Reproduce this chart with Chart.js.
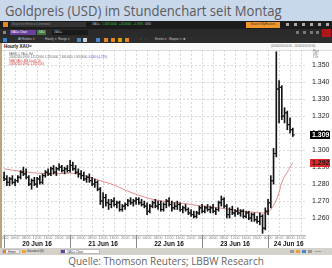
<!DOCTYPE html>
<html lang="de">
<head>
<meta charset="UTF-8">
<title>Goldpreis (USD) im Stundenchart</title>
<script src="https://cdn.jsdelivr.net/npm/chart.js"></script>
<style>
  html, body { margin: 0; padding: 0; }
  body { width: 332px; height: 268px; position: relative; overflow: hidden; background: #fff;
         font-family: "Liberation Sans", Arial, sans-serif; }
  .abs { position: absolute; white-space: nowrap; }
  .titel { left: 0; top: 0; width: 332px; height: 21px; background: #c9d7eb; }
  .titel span { position: absolute; left: 5px; top: 0px; font-family: "Open Sans"; font-size: 15px;
                color: #5a5a5a; transform: scaleX(0.873); transform-origin: 0 0; }
  .leiste { left: 0; width: 332px; }
  .leiste * { position: absolute; white-space: nowrap; font-size: 3px; line-height: 5px; }
  .kopf { left: 0; top: 43px; width: 332px; height: 7px; background: #fafafa; border-bottom: 1px solid #ddd; }
  .mini { font-size: 2.6px; line-height: 3px; color: #666; }
  #wrap { left: 0; top: 50px; width: 332px; height: 198px; }
  .rand { left: 0; top: 43px; width: 2px; height: 205px; background: #bba27c; }
  .task { left: 0; top: 248px; width: 332px; height: 7px; background: #d5d2cc; }
  .task * { position: absolute; white-space: nowrap; font-size: 3px; line-height: 5px; top: 1px; height: 5px; }
  .quelle { left: 0; top: 254px; width: 332px; text-align: center; font-family: "Open Sans";
            font-size: 10px; line-height: 14px; color: #666; }
</style>
</head>
<body>

<div class="abs titel"><span>Goldpreis (USD) im Stundenchart seit Montag</span></div>

<!-- Eikon-Werkzeugleisten -->
<div class="abs leiste" style="top:21px;height:8px;background:#1c1c1c">
  <i style="left:3px;top:1px;width:5px;height:5px;background:#e8831e"></i>
  <b style="left:10px;top:1px;width:74px;height:5px;background:#333;color:#888;font-weight:normal;padding-left:2px">Search or Enter a Command</b>
  <span style="left:92px;top:1px;color:#bbb">XAU=</span>
  <span style="left:102px;top:1px;color:#3cc43c">1.309,0000 &nbsp;+24,9000 &nbsp;+1,93% &nbsp;<span style="position:static;color:#bbb">USD</span></span>
  <b style="left:246px;top:1px;width:34px;height:6px;background:#f0962c;color:#333;font-weight:normal;text-align:center">Search MyReuters</b>
  <i style="left:286px;top:2px;width:3px;height:3px;background:#aaa"></i>
  <i style="left:294px;top:2px;width:3px;height:3px;background:#aaa"></i>
  <i style="left:302px;top:2px;width:3px;height:3px;background:#aaa"></i>
  <i style="left:310px;top:2px;width:3px;height:3px;background:#aaa"></i>
  <i style="left:318px;top:2px;width:3px;height:3px;background:#aaa"></i>
  <i style="left:326px;top:2px;width:3px;height:3px;background:#aaa"></i>
</div>
<div class="abs leiste" style="top:29px;height:8px;background:#2a2a2a">
  <i style="left:3px;top:2px;width:3px;height:3px;background:#888"></i>
  <b style="left:10px;top:1px;width:25px;height:5px;background:#6a3fa0;color:#fff;font-weight:normal;padding-left:1px">XAU= Chart</b>
  <b style="left:37px;top:1px;width:9px;height:5px;background:#3b7a3b;color:#ddd;font-weight:normal;text-align:center">XAU</b>
  <b style="left:52px;top:1px;width:34px;height:5px;background:#1a1a1a;color:#bbb;font-weight:normal;padding-left:2px">XAU=</b>
  <i style="left:296px;top:2px;width:3px;height:3px;background:#777"></i>
  <i style="left:303px;top:2px;width:3px;height:3px;background:#777"></i>
  <i style="left:310px;top:2px;width:3px;height:3px;background:#777"></i>
  <i style="left:316px;top:2px;width:3px;height:3px;background:#777"></i>
  <i style="left:322px;top:0px;width:9px;height:8px;background:#b31616"></i>
</div>
<div class="abs leiste" style="top:37px;height:6px;background:#2d2d2d">
  <i style="left:3px;top:1px;width:4px;height:4px;background:#3a7fd0"></i>
  <span style="left:18px;top:0px;color:#ccc">All Entities ▾</span>
  <span style="left:45px;top:0px;color:#ccc">Hourly ▾ &nbsp;Range ▾</span>
  <i style="left:77px;top:1px;width:4px;height:4px;background:#4a86c8"></i>
  <i style="left:83px;top:1px;width:4px;height:4px;background:#d0d0d0"></i>
  <i style="left:96px;top:1px;width:4px;height:4px;background:#4a86c8"></i>
  <i style="left:104px;top:1px;width:4px;height:4px;background:#e8831e"></i>
  <i style="left:111px;top:1px;width:4px;height:4px;background:#e8831e"></i>
  <i style="left:118px;top:1px;width:4px;height:4px;background:#d9a400"></i>
  <i style="left:125px;top:1px;width:4px;height:4px;background:#e8831e"></i>
  <span style="left:140px;top:0px;color:#999">↕ &nbsp;↔</span>
  <span style="left:155px;top:0px;color:#ccc">Events ▾ &nbsp;Shapes ▾ &nbsp;✱</span>
</div>

<div class="abs kopf">
  <span class="abs" style="left:4px;top:1px;font-size:4.5px;font-weight:bold;color:#111">Hourly XAU=</span>
  <span class="abs mini" style="left:271px;top:2px">(20/06/2016 00:00 - 24/06/2016 09:00)</span>
</div>

<div class="abs" id="wrap"><canvas id="goldChart" width="332" height="198"></canvas></div>

<div class="abs mini" style="left:9px;top:53px">BARHLC, XAU=, Bid</div>
<div class="abs mini" style="left:9px;top:56px">24/06/2016 09:00, 1.312,0000, 1.313,0000, 1.308,0000, 1.309,0000 <span style="color:#6a4bd0">-3,0000 (-0,23%)</span></div>
<div class="abs mini" style="left:9px;top:59.5px;color:#d23030">SMA, XAU= (Bid (Last)), 20</div>
<div class="abs mini" style="left:9px;top:62.5px;color:#d23030">24/06/2016 09:00, 1.292,5593</div>
<div class="abs mini" style="left:313px;top:50px;line-height:3.2px">Price<br>USD<br>T.Oz</div>

<div class="abs rand"></div>

<div class="abs task">
  <i style="left:2px;width:18px;background:#eee;border:1px solid #bbb;box-sizing:border-box;color:#333;padding-left:5px">Home</i>
  <i style="left:3px;top:2px;width:3px;height:3px;background:#e8831e"></i>
  <i style="left:22px;width:36px;color:#333;padding-left:5px">Standard (6)</i>
  <i style="left:22px;top:2px;width:4px;height:3px;background:#f0a030"></i>
  <i style="left:60px;width:40px;background:#fff;border:1px solid #bbb;box-sizing:border-box;color:#333;padding-left:6px">XAU= Chart</i>
  <i style="left:61px;top:2px;width:4px;height:3px;background:#6a3fa0"></i>
  <i style="left:290px;top:2px;width:4px;height:3px;background:#999"></i>
  <i style="left:296px;top:2px;width:4px;height:3px;background:#f0a030"></i>
  <i style="left:302px;top:2px;width:4px;height:3px;background:#4a86c8"></i>
  <i style="left:308px;top:2px;width:4px;height:3px;background:#999"></i>
  <i style="left:315px;top:2px;width:12px;height:3px;color:#555;font-size:2.5px;line-height:3px">09:01</i>
</div>

<div class="abs quelle">Quelle: Thomson Reuters; LBBW Research</div>

<script>
// Stundenbalken XAU= ab Mo 20.06.2016 00:00 (Index = Stunde)
const open  = [1284,1283,1281,1283,1281,1282,1284,1287,1286,1284,1280,1282,1280,1283,1281,1285,1287,1286,1289,1287,1289,1290,1288,1289,
               1288,1291,1289,1287,1286,1285,1283,1284,1282,1280,1281,1277,1270,1272,1269,1268,1270,1268,1269,1265,1267,1268,1270,1269,
               1270,1271,1269,1268,1267,1264,1267,1269,1267,1268,1265,1268,1270,1268,1266,1267,1268,1265,1266,1265,1263,1262,1261,1263,
               1266,1264,1266,1265,1266,1264,1265,1269,1271,1267,1262,1265,1263,1264,1263,1264,1261,1263,1260,1262,1259,1258,1261,1254,
               1264,1269,1282,1298,1336,1337,1320,1322,1315,1312];
const high  = [1287,1285,1284,1285,1283,1285,1288,1290,1289,1285,1283,1284,1284,1285,1286,1288,1289,1290,1291,1290,1292,1291,1290,1291,
               1294,1293,1291,1289,1288,1287,1285,1286,1284,1283,1282,1278,1275,1274,1271,1271,1272,1270,1270,1268,1269,1271,1272,1271,
               1272,1272,1271,1270,1269,1268,1270,1271,1270,1270,1269,1271,1272,1270,1269,1270,1269,1267,1268,1266,1265,1264,1264,1267,
               1268,1267,1268,1267,1268,1266,1270,1273,1272,1268,1266,1267,1265,1266,1265,1265,1264,1264,1263,1263,1261,1263,1262,1266,
               1271,1285,1301,1358,1341,1338,1325,1323,1319,1313];
const low   = [1282,1279,1279,1280,1279,1281,1283,1285,1283,1279,1277,1279,1278,1280,1280,1284,1285,1285,1286,1285,1288,1287,1286,1287,
               1287,1288,1286,1284,1283,1282,1281,1281,1279,1278,1276,1268,1266,1267,1265,1266,1267,1266,1264,1264,1265,1267,1268,1267,
               1268,1268,1267,1266,1262,1263,1266,1266,1265,1264,1264,1266,1267,1264,1265,1265,1264,1263,1264,1262,1261,1260,1260,1262,
               1263,1263,1264,1263,1263,1262,1264,1267,1266,1260,1260,1262,1261,1262,1261,1260,1260,1259,1258,1258,1257,1256,1251,1253,
               1262,1266,1280,1296,1316,1318,1316,1312,1310,1308];
const close = [1283,1281,1283,1281,1282,1284,1287,1286,1284,1280,1282,1280,1283,1281,1285,1287,1286,1289,1287,1289,1290,1288,1289,1288,
               1291,1289,1287,1286,1285,1283,1284,1282,1280,1281,1277,1270,1272,1269,1268,1270,1268,1269,1265,1267,1268,1270,1269,1270,
               1271,1269,1268,1267,1264,1267,1269,1267,1268,1265,1268,1270,1268,1266,1267,1268,1265,1266,1265,1263,1262,1261,1263,1266,
               1264,1266,1265,1266,1264,1265,1269,1271,1267,1262,1265,1263,1264,1263,1264,1261,1263,1260,1262,1259,1258,1261,1254,1264,
               1269,1282,1298,1336,1337,1320,1322,1315,1312,1309];

const maHours  = [0, 6, 12, 18, 24, 28, 32, 36, 40, 44, 48, 54, 60, 66, 72, 78, 84, 90, 94, 96, 98, 100, 101, 102, 103, 104, 105];
const maValues = [1289, 1287.5, 1286.5, 1286, 1286.5, 1285.5, 1283.5, 1281.5, 1279.5, 1276.5, 1274, 1271, 1269.5, 1268.5,
                  1267, 1266, 1264.7, 1263.5, 1263, 1263.5, 1267.5, 1275, 1281, 1284.5, 1287, 1290, 1292.6];

const timeLabels = ['00:00', '04:00', '08:00', '12:00', '16:00', '20:00'];
const dayLabels  = ['20 Jun 16', '21 Jun 16', '22 Jun 16', '23 Jun 16', '24 Jun 16'];
const dayStarts  = [0, 24, 48, 72, 96];
const dayCenters = [12, 36, 60, 84, 103.5];
const priceTicks = [1260, 1270, 1280, 1290, 1300, 1310, 1320, 1330, 1340, 1350];

const fmtPrice = v => '1.' + String(Math.floor(v)).slice(1);

const barColor = '#141414';
const xMin = -0.4, xMax = 109.8;

// Achsen sollen keinen Zusatzrand fuer ihre Randbeschriftungen anfordern
const noPad = axis => { axis.paddingLeft = 0; axis.paddingRight = 0; axis.paddingTop = 0; axis.paddingBottom = 0; };

// Tagestrenner, Kursmarken rechts
const extras = {
  id: 'extras',
  afterDraw(chart) {
    const c = chart.ctx, a = chart.chartArea, xs = chart.scales.x, ys = chart.scales.y;
    c.save();
    c.strokeStyle = '#bbb';
    c.lineWidth = 1;
    c.beginPath();
    c.moveTo(a.left, a.bottom + 0.5);
    c.lineTo(a.right, a.bottom + 0.5);
    c.stroke();
    c.strokeStyle = '#8a8a8a';
    dayStarts.forEach(d => {
      const px = Math.round(xs.getPixelForValue(d)) + 0.5;
      c.beginPath();
      c.moveTo(px, a.bottom);
      c.lineTo(px, a.bottom + 13);
      c.stroke();
    });
    const boxes = [
      { v: close[close.length - 1], bg: '#000', fg: '#fff' },
      { v: maValues[maValues.length - 1], bg: '#e3262a', fg: '#1a1a1a' }
    ];
    c.font = 'bold 7px "Liberation Sans", Arial';
    c.textBaseline = 'middle';
    boxes.forEach(b => {
      const py = Math.round(ys.getPixelForValue(b.v));
      c.fillStyle = b.bg;
      c.fillRect(a.right + 4, py - 4, 20, 8);
      c.fillStyle = b.fg;
      c.fillText(fmtPrice(b.v), a.right + 6, py + 0.5);
    });
    c.restore();
  }
};

const ctx = document.getElementById('goldChart').getContext('2d');
new Chart(ctx, {
  type: 'bar',
  data: {
    datasets: [
      {
        type: 'line',
        data: maHours.map((h, i) => ({ x: h, y: maValues[i] })),
        borderColor: 'rgba(214, 92, 92, 0.7)',
        borderWidth: 1,
        pointRadius: 0,
        cubicInterpolationMode: 'monotone',
        order: 4
      },
      {
        type: 'bar',
        data: open.map((o, i) => ({ x: i, y: [low[i], high[i]] })),
        backgroundColor: barColor,
        barThickness: 1,
        order: 1
      },
      {
        type: 'line',
        data: open.map((o, i) => ({ x: i - 0.4, y: o })),
        showLine: false,
        pointStyle: 'line',
        pointRadius: 1,
        pointBorderWidth: 1,
        pointBorderColor: barColor,
        order: 2
      },
      {
        type: 'line',
        data: close.map((v, i) => ({ x: i + 0.4, y: v })),
        showLine: false,
        pointStyle: 'line',
        pointRadius: 1,
        pointBorderWidth: 1,
        pointBorderColor: barColor,
        order: 2
      }
    ]
  },
  options: {
    responsive: false,
    animation: false,
    events: [],
    layout: { autoPadding: false, padding: { left: 3, top: 0, right: 0, bottom: 0 } },
    plugins: { legend: { display: false }, tooltip: { enabled: false } },
    scales: {
      x: {
        type: 'linear', min: xMin, max: xMax, offset: false, weight: 0,
        grid: { color: '#d6d6d6', drawTicks: false, offset: false },
        border: { display: false, dash: [2, 2] },
        afterBuildTicks: axis => {
          const t = [];
          for (let h = 0; h <= 108; h += 4) t.push({ value: h });
          axis.ticks = t;
        },
        ticks: {
          autoSkip: false, maxRotation: 0, padding: 1, color: '#777',
          font: { size: 3.5, family: '"Liberation Sans", Arial' },
          callback: v => timeLabels[(v / 4) % 6]
        },
        afterFit: axis => { axis.height = 5; noPad(axis); }
      },
      tage: {
        type: 'linear', position: 'bottom', min: xMin, max: xMax, offset: false, weight: 1,
        grid: { display: false, drawTicks: false, offset: false },
        border: { display: false },
        afterBuildTicks: axis => { axis.ticks = dayCenters.map(v => ({ value: v })); },
        ticks: {
          autoSkip: false, maxRotation: 0, padding: 0, color: '#111',
          font: { size: 6.5, weight: 'bold', family: '"Liberation Sans", Arial' },
          callback: (v, i) => dayLabels[i]
        },
        afterFit: axis => { axis.height = 8; noPad(axis); }
      },
      y: {
        position: 'right', min: 1250, max: 1359,
        grid: { color: '#d6d6d6', drawTicks: false },
        border: { display: false, dash: [2, 2] },
        afterBuildTicks: axis => { axis.ticks = priceTicks.map(v => ({ value: v })); },
        ticks: {
          padding: 6, color: '#222',
          font: { size: 7, family: '"Liberation Sans", Arial' },
          callback: v => fmtPrice(v)
        },
        afterFit: axis => { axis.width = 26; noPad(axis); }
      }
    }
  },
  plugins: [extras]
});
</script>
</body>
</html>
